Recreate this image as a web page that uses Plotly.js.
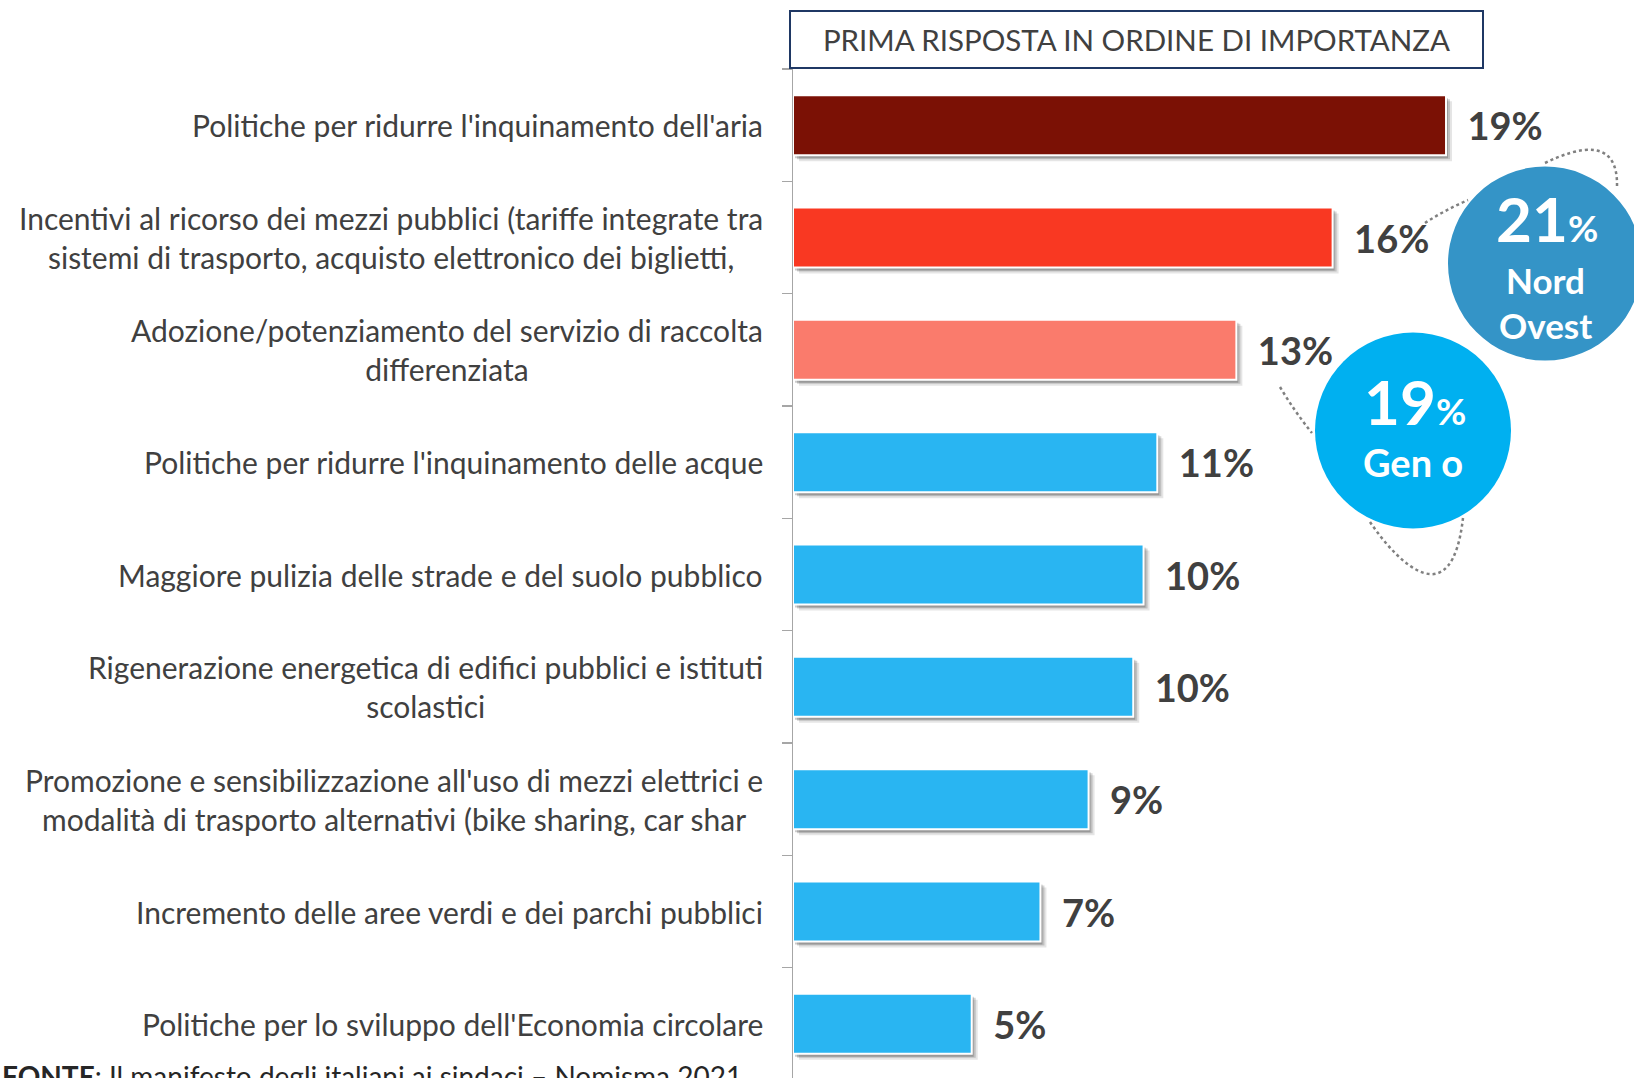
<!DOCTYPE html>
<html>
<head>
<meta charset="utf-8">
<script src="https://cdn.plot.ly/plotly-3.0.1.min.js"></script>
<style>
html,body{margin:0;padding:0;overflow:hidden;background:#fff;}
#chart{width:1634px;height:1078px;}
</style>
</head>
<body>
<div id="chart"></div>
<script>
// ---- data ----
const categories = [
  "Politiche per ridurre l'inquinamento dell'aria",
  "Incentivi al ricorso dei mezzi pubblici (tariffe integrate tra<br>sistemi di trasporto, acquisto elettronico dei biglietti,",
  "Adozione/potenziamento del servizio di raccolta<br>differenziata",
  "Politiche per ridurre l'inquinamento delle acque",
  "Maggiore pulizia delle strade e del suolo pubblico",
  "Rigenerazione energetica di edifici pubblici e istituti<br>scolastici",
  "Promozione e sensibilizzazione all'uso di mezzi elettrici e<br>modalità di trasporto alternativi (bike sharing, car shar",
  "Incremento delle aree verdi e dei parchi pubblici",
  "Politiche per lo sviluppo dell'Economia circolare"
];
const values = [19.0, 15.7, 12.9, 10.6, 10.2, 9.9, 8.6, 7.2, 5.2];
const valueLabels = ["19%", "16%", "13%", "11%", "10%", "10%", "9%", "7%", "5%"];
const barColors = ["#7B1105", "#F93822", "#FA7B6C", "#29B5F2", "#29B5F2", "#29B5F2", "#29B5F2", "#29B5F2", "#29B5F2"];
const boxTitle = "PRIMA RISPOSTA IN ORDINE DI IMPORTANZA";
const bubbles = [
  {num: "21", line1: "Nord", line2: "Ovest", color: "#3494C7"},
  {num: "19", line1: "Gen o", line2: "", color: "#00B0F0"}
];
const sourceText = "<b>FONTE</b>: Il manifesto degli italiani ai sindaci – Nomisma 2021";

// ---- geometry helpers (layout, not data) ----
const W = 1634, H = 1078;
const M = {l: 793, r: 0, t: 69, b: 0};
const PW = W - M.l - M.r, PH = H - M.t - M.b;
const pxPerUnit = 34.37;
const px = x => (x - M.l) / PW;
const py = y => (H - M.b - y) / PH;
const P = (x, y) => px(x) + "," + py(y);
const catStep = 112.4;
const barW = 60 / catStep;

const labelFont = "Lato, sans-serif";
const boldFont = "Lato, sans-serif";
const textGrey = "#404040";

const nb = "\u00A0\u00A0";

const shadowLayers = [
  {dx: 6, dy: 6, c: "rgba(0,0,0,0.10)"},
  {dx: 4, dy: 4, c: "rgba(0,0,0,0.16)"},
  {dx: 2, dy: 3, c: "rgba(0,0,0,0.20)"}
];

const traces = shadowLayers.map(s => ({
  type: "bar", orientation: "h",
  x: values, y: categories,
  base: s.dx / pxPerUnit,
  width: barW,
  offset: -barW / 2 + s.dy / catStep,
  marker: {color: s.c, line: {width: 0}},
  hoverinfo: "skip", showlegend: false
}));

traces.push({
  type: "bar", orientation: "h",
  x: values, y: categories,
  width: barW,
  marker: {color: barColors, line: {color: "#ffffff", width: 2}},
  text: valueLabels.map(t => nb + t),
  textposition: "outside",
  textfont: {family: boldFont, size: 38, color: textGrey, weight: 700},
  outsidetextfont: {family: boldFont, size: 38, color: textGrey, weight: 700},
  constraintext: "none",
  cliponaxis: false,
  hoverinfo: "skip", showlegend: false
});

const annotations = categories.map(c => ({
  xref: "paper", yref: "y",
  x: px(765), y: c,
  xanchor: "right", yanchor: "middle",
  text: c, align: "center", showarrow: false,
  font: {family: labelFont, size: 30, color: textGrey}
}));

annotations.push({
  xref: "paper", yref: "paper",
  x: px(789), y: py(10), xanchor: "left", yanchor: "top",
  width: 691, height: 55,
  text: boxTitle, showarrow: false,
  bordercolor: "#1F3864", borderwidth: 2, borderpad: 0, bgcolor: "#ffffff",
  font: {family: labelFont, size: 29.5, color: textGrey}
});

annotations.push({
  xref: "paper", yref: "paper",
  x: px(0), y: py(1057), xanchor: "left", yanchor: "top",
  text: sourceText, showarrow: false,
  font: {family: labelFont, size: 28, color: "#262626"}
});

// bubble text
const bubblePos = [
  {cx: 1545, cy: 263.5, r: 97, numY: 218, l1Y: 280, l2Y: 325},
  {cx: 1413, cy: 430.5, r: 98, numY: 401, l1Y: 462, l2Y: 0}
];
const shapes = [];
bubbles.forEach((b, i) => {
  const p = bubblePos[i];
  shapes.push({
    type: "circle", xref: "paper", yref: "paper",
    xsizemode: "pixel", ysizemode: "pixel",
    xanchor: px(p.cx), yanchor: py(p.cy),
    x0: -p.r, x1: p.r, y0: -p.r, y1: p.r,
    fillcolor: b.color, line: {width: 0}, layer: "above"
  });
  annotations.push({
    xref: "paper", yref: "paper", x: px(p.cx + 2), y: py(p.numY),
    xanchor: "center", yanchor: "middle", showarrow: false,
    text: "<b>" + b.num + "<span style='font-size:37px'>%</span></b>",
    font: {family: boldFont, size: 62, color: "#ffffff"}
  });
  annotations.push({
    xref: "paper", yref: "paper", x: px(p.cx), y: py(p.l1Y),
    xanchor: "center", yanchor: "middle", showarrow: false,
    text: "<b>" + b.line1 + "</b>",
    font: {family: boldFont, size: i === 0 ? 35 : 38, color: "#ffffff"}
  });
  if (b.line2) {
    annotations.push({
      xref: "paper", yref: "paper", x: px(p.cx), y: py(p.l2Y),
      xanchor: "center", yanchor: "middle", showarrow: false,
      text: "<b>" + b.line2 + "</b>",
      font: {family: boldFont, size: 35, color: "#ffffff"}
    });
  }
});

const dotted = {color: "#808080", width: 2.5, dash: "dot"};
const paths = [
  "M" + P(1425, 223) + " Q" + P(1445, 210) + " " + P(1468, 200),
  "M" + P(1545, 163) + " C" + P(1580, 146) + " " + P(1618, 138) + " " + P(1617, 186),
  "M" + P(1280, 387) + " Q" + P(1295, 412) + " " + P(1312, 433),
  "M" + P(1370, 522) + " C" + P(1400, 566) + " " + P(1452, 615) + " " + P(1463, 518)
];
paths.forEach(d => shapes.push({type: "path", xref: "paper", yref: "paper", path: d, line: dotted, layer: "above"}));

const layout = {
  width: W, height: H,
  margin: M,
  paper_bgcolor: "#ffffff", plot_bgcolor: "#ffffff",
  barmode: "overlay",
  showlegend: false,
  xaxis: {range: [0, PW / pxPerUnit], showgrid: false, zeroline: false, showline: false,
          showticklabels: false, ticks: "", fixedrange: true},
  yaxis: {type: "category", categoryorder: "array", categoryarray: categories,
          range: [8.5 - 2 / catStep, -0.5],
          showgrid: false, zeroline: false, showline: true, linecolor: "#A6A6A6", linewidth: 1.5,
          ticks: "outside", ticklen: 10, tickcolor: "#A6A6A6", tickwidth: 1.5, tickson: "boundaries",
          showticklabels: false, fixedrange: true},
  annotations: annotations,
  shapes: shapes
};

Plotly.newPlot("chart", traces, layout, {displayModeBar: false, staticPlot: true});
</script>
</body>
</html>
